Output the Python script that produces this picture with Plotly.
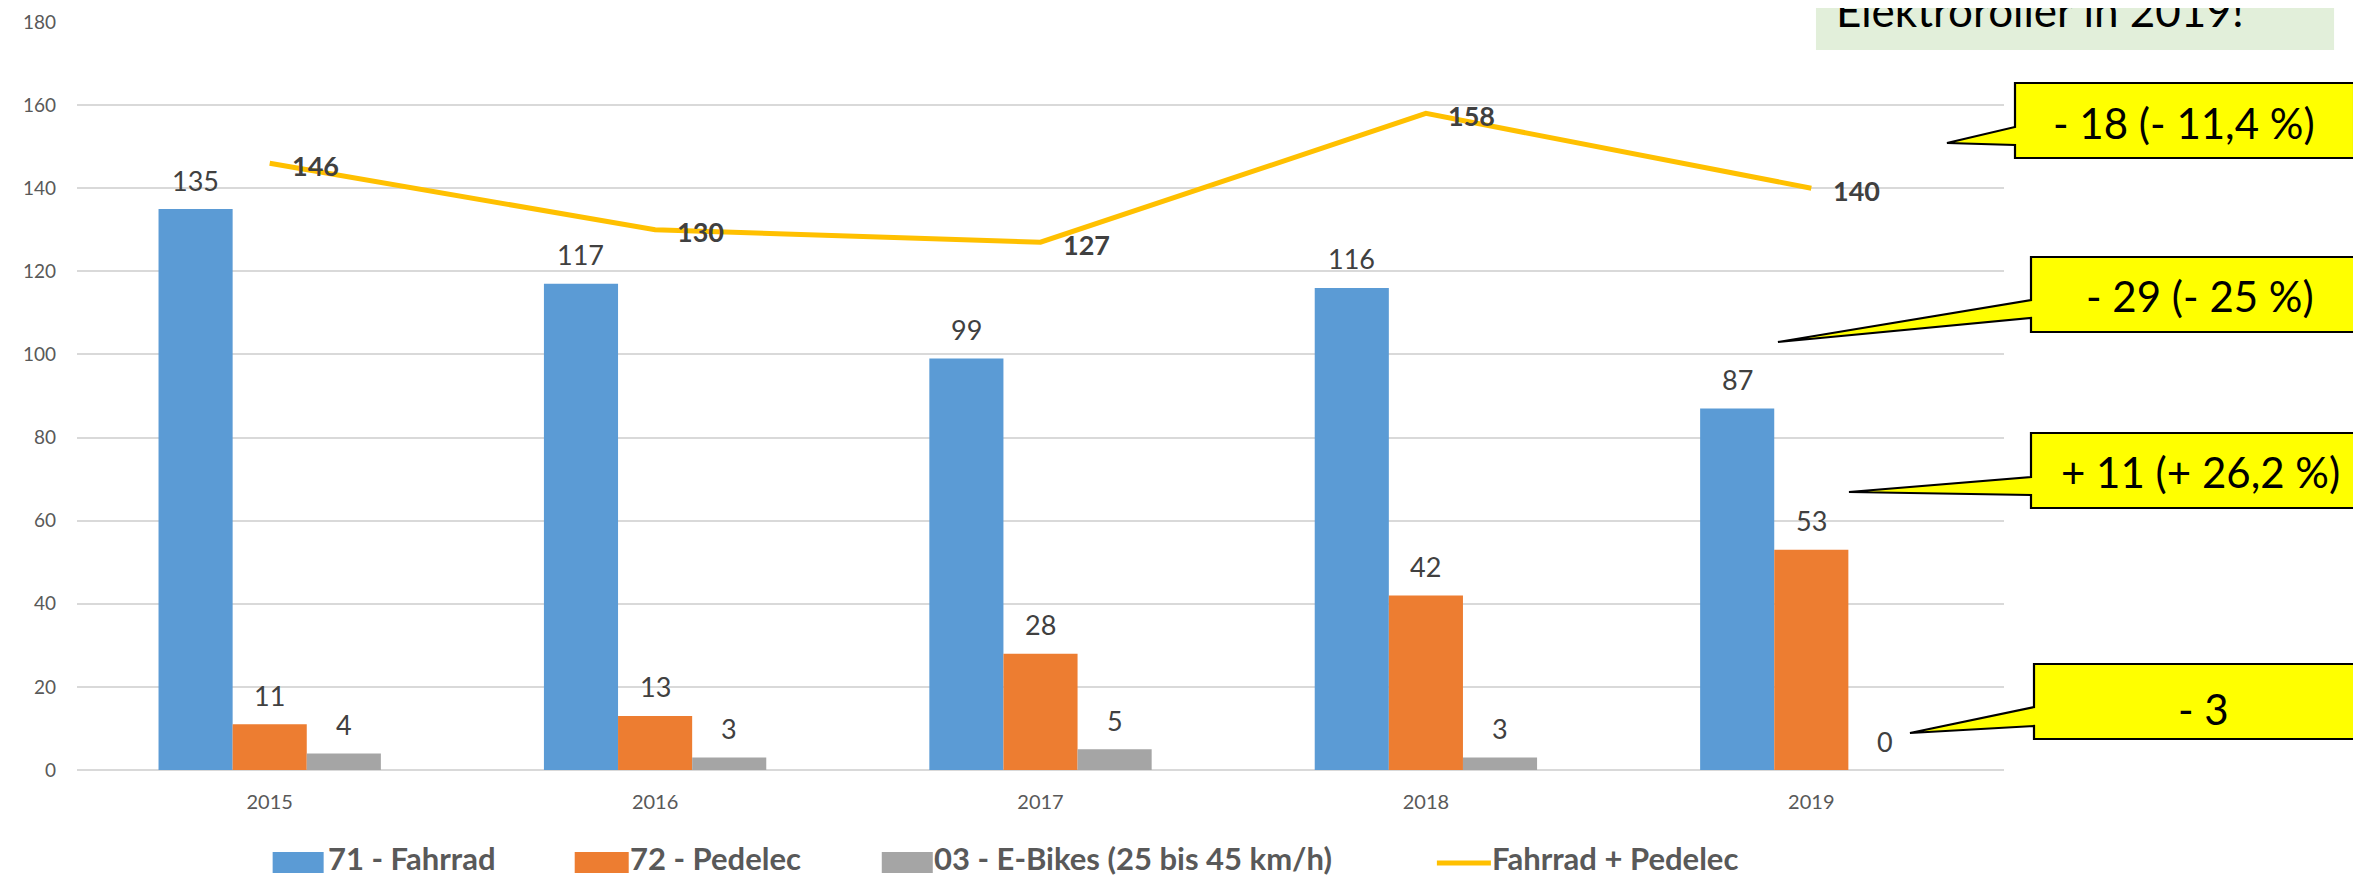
import plotly.graph_objects as go

years = ["2015", "2016", "2017", "2018", "2019"]
fahrrad = [135, 117, 99, 116, 87]
pedelec = [11, 13, 28, 42, 53]
ebikes = [4, 3, 5, 3, 0]
summe = [146, 130, 127, 158, 140]

bar_names = ["71 - Fahrrad", "72 - Pedelec", "03 - E-Bikes (25 bis 45 km/h)"]
line_name = "Fahrrad + Pedelec"
bar_colors = ["#5B9BD5", "#ED7D31", "#A5A5A5"]
line_color = "#FFC000"

callout_texts = ["- 18 (- 11,4 %)", "- 29 (- 25 %)", "+ 11 (+ 26,2 %)", "- 3"]
note_text = "Elektroroller in 2019!"

W, H = 2361, 879
OFF = 8  # default page body margin
L, R, T, B0 = 77.4, 2004.0, 22.0, 770.0
FONT = "Lato"


def px(x):
    return (x - L) / (R - L)


def py(y):
    return (B0 - y) / (B0 - T)


xs = list(range(len(years)))
series = [fahrrad, pedelec, ebikes]
bar_w = 0.1923

fig = go.Figure()
for name, vals, col in zip(bar_names, series, bar_colors):
    fig.add_trace(go.Bar(x=xs, y=vals, name=name, marker=dict(color=col, line=dict(width=0)),
                         showlegend=False))
fig.add_trace(go.Scatter(x=xs, y=summe, name=line_name, mode="lines",
                         line=dict(color=line_color, width=5), showlegend=False))

annotations = []
shapes = []

# bar value labels
for k, vals in enumerate(series):
    off = (k - 1) * bar_w
    for i, v in enumerate(vals):
        annotations.append(dict(x=i + off, y=v, xref="x", yref="y", text=str(v), showarrow=False,
                                yanchor="middle", yshift=29,
                                font=dict(family=FONT, size=27, color="#404040")))
# line labels
for i, v in enumerate(summe):
    annotations.append(dict(x=i, y=v, xref="x", yref="y", text="<b>%d</b>" % v, showarrow=False,
                            xanchor="left", yanchor="middle", xshift=20, yshift=-2,
                            font=dict(family=FONT, size=27, color="#404040")))

# green note box (cut at top)
shapes.append(dict(type="rect", xref="paper", yref="paper", x0=px(1816), x1=px(2334),
                   y0=py(50), y1=py(-20), fillcolor="#E2EFDA", line=dict(width=0), layer="above"))
annotations.append(dict(x=px(2040), y=py(38), xref="paper", yref="paper", text=note_text,
                        showarrow=False, xanchor="center", yanchor="bottom",
                        font=dict(family=FONT, size=44, color="#000000")))

# callouts: box (x0,y0,x1,y1), tip, upper, lower, text center
callouts = [
    ((2015, 83, 2354, 158), (1947, 143), 127, 145, (2184, 123)),
    ((2031, 257, 2369, 332), (1778, 342), 300, 318, (2200, 296)),
    ((2031, 433, 2369, 508), (1849, 492), 477, 495, (2200, 472)),
    ((2034, 664, 2372, 739), (1910, 733), 707, 726, (2203, 709)),
]
for (box, tip, up, lo, tc), txt in zip(callouts, callout_texts):
    x0, y0, x1, y1 = box
    pts = [(x0, y0), (x1, y0), (x1, y1), (x0, y1), (x0, lo), tip, (x0, up)]
    path = "M " + " L ".join("%.5f,%.5f" % (px(a), py(b)) for a, b in pts) + " Z"
    shapes.append(dict(type="path", xref="paper", yref="paper", path=path,
                       fillcolor="#FFFF00", line=dict(color="#000000", width=2.2), layer="above"))
    annotations.append(dict(x=px(tc[0]), y=py(tc[1]), xref="paper", yref="paper", text=txt,
                            showarrow=False, xanchor="center", yanchor="middle",
                            font=dict(family=FONT, size=42, color="#000000")))

# manual legend
leg_y = 858
sw = [(273, 324), (575, 629), (882, 933)]
for (a, b), col in zip(sw, bar_colors):
    shapes.append(dict(type="rect", xref="paper", yref="paper", x0=px(a), x1=px(b),
                       y0=py(873), y1=py(852), fillcolor=col, line=dict(width=0)))
shapes.append(dict(type="line", xref="paper", yref="paper", x0=px(1437), x1=px(1491),
                   y0=py(863), y1=py(863), line=dict(color=line_color, width=5)))
for xl, name in zip([327, 629, 933, 1491], bar_names + [line_name]):
    annotations.append(dict(x=px(xl), y=py(leg_y), xref="paper", yref="paper",
                            text="<b>%s</b>" % name, showarrow=False, borderpad=0,
                            xanchor="left", yanchor="middle",
                            font=dict(family=FONT, size=31, color="#595959")))

fig.update_layout(
    width=W - OFF, height=H - OFF,
    margin=dict(l=L - OFF, r=W - R, t=T - OFF, b=H - B0, pad=0, autoexpand=False),
    paper_bgcolor="white", plot_bgcolor="white",
    barmode="group", bargap=1 - 3 * bar_w, bargroupgap=0,
    showlegend=False,
    font=dict(family=FONT),
    annotations=annotations, shapes=shapes,
)
fig.update_xaxes(range=[-0.5, len(years) - 0.5], tickvals=xs, ticktext=years, automargin=False,
                 showgrid=False, zeroline=False, showline=False, ticks="",
                 tickfont=dict(family=FONT, size=20, color="#595959"), ticklabelstandoff=18)
fig.update_yaxes(range=[0, 180], dtick=20, showgrid=True, gridcolor="#D9D9D9", gridwidth=2,
                 automargin=False,
                 zeroline=True, zerolinecolor="#D9D9D9", zerolinewidth=2, showline=False, ticks="",
                 tickfont=dict(family=FONT, size=19, color="#595959"), ticklabelstandoff=20)

fig.write_html("out.html")
